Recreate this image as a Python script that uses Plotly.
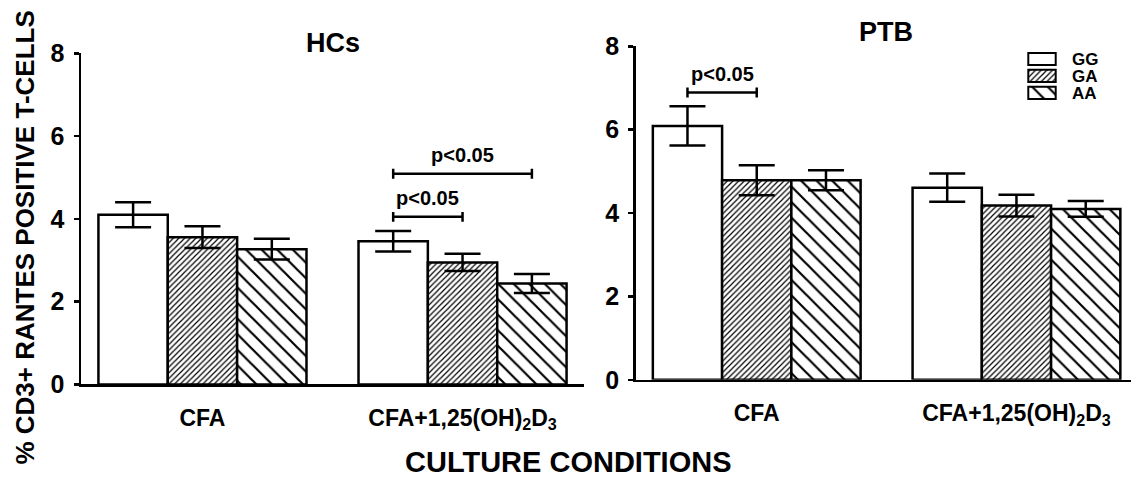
import plotly.graph_objects as go

# ---------------- data ----------------
groups = ["CFA", "CFA+1,25(OH)<sub>2</sub>D<sub>3</sub>"]
genotypes = ["GG", "GA", "AA"]
y_ticks = [0, 2, 4, 6, 8]

hcs_gg = [4.10, 3.46]
hcs_ga = [3.56, 2.95]
hcs_aa = [3.27, 2.44]
hcs_gg_sem = [0.30, 0.25]
hcs_ga_sem = [0.26, 0.21]
hcs_aa_sem = [0.25, 0.23]

ptb_gg = [6.09, 4.61]
ptb_ga = [4.79, 4.18]
ptb_aa = [4.79, 4.10]
ptb_gg_sem = [0.47, 0.34]
ptb_ga_sem = [0.36, 0.26]
ptb_aa_sem = [0.24, 0.19]

panel_titles = ["HCs", "PTB"]
sig_text = "p<0.05"
# (group index, first genotype index, second genotype index, bracket level)
hcs_brackets = [(1, 0, 1, 4.05), (1, 0, 2, 5.09)]
ptb_brackets = [(0, 0, 1, 6.89)]

y_title = "% CD3+ RANTES POSITIVE T-CELLS"
x_title = "CULTURE CONDITIONS"

# ---------------- style ----------------
FONT = "Liberation Sans, Arial, sans-serif"
W, H = 1131, 495
BARGAP = 0.2
GROUP_W = 1 - BARGAP
LW = 2.5

styles = {
    "GG": dict(shape="", size=8, solidity=0.2),
    "GA": dict(shape="/", size=4, solidity=0.3),
    "AA": dict(shape="\\", size=11, solidity=0.2),
}

fig = go.Figure()

panels = [
    ("x", "y", [hcs_gg, hcs_ga, hcs_aa], [hcs_gg_sem, hcs_ga_sem, hcs_aa_sem]),
    ("x2", "y2", [ptb_gg, ptb_ga, ptb_aa], [ptb_gg_sem, ptb_ga_sem, ptb_aa_sem]),
]
for xa, ya, means, sems in panels:
    for g, m, s in zip(genotypes, means, sems):
        st = styles[g]
        fig.add_trace(go.Bar(
            x=list(range(len(groups))), y=m, xaxis=xa, yaxis=ya, name=g,
            showlegend=False,
            marker=dict(color="white", line=dict(color="black", width=LW),
                        pattern=dict(shape=st["shape"], size=st["size"],
                                     solidity=st["solidity"], fgcolor="black",
                                     bgcolor="white", fillmode="replace")),
            error_y=dict(type="data", array=s, symmetric=True, color="black",
                         thickness=LW, width=18),
        ))

# legend swatches drawn as bars on a small helper axis
fig.add_trace(go.Bar(
    x=[1] * len(genotypes), y=list(range(len(genotypes))), orientation="h",
    xaxis="x3", yaxis="y3", width=0.72, showlegend=False, hoverinfo="skip",
    marker=dict(color="white", line=dict(color="black", width=2),
                pattern=dict(shape=[styles[g]["shape"] for g in genotypes],
                             size=[styles[g]["size"] for g in genotypes],
                             solidity=[styles[g]["solidity"] for g in genotypes],
                             fgcolor="black", bgcolor="white", fillmode="replace")),
))


def bar_center(group, idx):
    return group + (idx - 1) * GROUP_W / 3


shapes = []
annotations = []
for xref, yref, brackets in (("x", "y", hcs_brackets), ("x2", "y2", ptb_brackets)):
    for grp, a, b, lvl in brackets:
        x0, x1 = bar_center(grp, a), bar_center(grp, b)
        d = 0.12
        line = dict(color="black", width=LW)
        shapes.append(dict(type="line", xref=xref, yref=yref, x0=x0, x1=x1, y0=lvl, y1=lvl, line=line))
        shapes.append(dict(type="line", xref=xref, yref=yref, x0=x0, x1=x0, y0=lvl - d, y1=lvl + d, line=line))
        shapes.append(dict(type="line", xref=xref, yref=yref, x0=x1, x1=x1, y0=lvl - d, y1=lvl + d, line=line))
        annotations.append(dict(text=sig_text, xref=xref, yref=yref, x=(x0 + x1) / 2, y=lvl,
                                yshift=19, yanchor="middle", xanchor="center", showarrow=False,
                                font=dict(family=FONT, size=20, color="black", weight="bold")))

annotations.append(dict(text=panel_titles[0], xref="paper", yref="paper", x=332.5 / W, y=1 - 31 / H,
                        xanchor="center", yanchor="middle", showarrow=False,
                        font=dict(family=FONT, size=27, color="black", weight="bold")))
annotations.append(dict(text=panel_titles[1], xref="paper", yref="paper", x=886 / W, y=1 - 19 / H,
                        xanchor="center", yanchor="middle", showarrow=False,
                        font=dict(family=FONT, size=27, color="black", weight="bold")))
annotations.append(dict(text=y_title, xref="paper", yref="paper", x=25 / W, y=1 - 237 / H,
                        textangle=-90, xanchor="center", yanchor="middle", showarrow=False,
                        font=dict(family=FONT, size=26, color="black", weight="bold")))
annotations.append(dict(text=x_title, xref="paper", yref="paper", x=568 / W, y=1 - 475 / H,
                        xanchor="center", yanchor="middle", showarrow=False,
                        font=dict(family=FONT, size=29, color="black", weight="bold")))

xcommon = dict(showline=True, linewidth=LW, linecolor="black", ticks="", showgrid=False,
               zeroline=False, tickvals=list(range(len(groups))), ticktext=groups,
               tickfont=dict(family=FONT, size=23, color="black", weight="bold"),
               ticklabelstandoff=11, fixedrange=True)
ycommon = dict(showline=True, linewidth=LW, linecolor="black", ticks="outside", ticklen=5,
               tickwidth=LW, tickcolor="black", showgrid=False, zeroline=False, range=[0, 8],
               tickvals=y_ticks, tickfont=dict(family=FONT, size=25, color="black", weight="bold"),
               ticklabelstandoff=4, fixedrange=True)

fig.update_layout(
    width=W, height=H, margin=dict(l=0, r=0, t=0, b=0),
    paper_bgcolor="white", plot_bgcolor="white",
    barmode="group", bargap=BARGAP, bargroupgap=0,
    showlegend=False, hovermode=False,
    xaxis=dict(domain=[81 / W, 584 / W], range=[-0.467, 1.467], anchor="y", **xcommon),
    yaxis=dict(domain=[1 - 392.7 / H, 1 - 41.7 / H], anchor="x", **ycommon),
    xaxis2=dict(domain=[635.7 / W, 1.0], range=[-0.466, 1.441], anchor="y2", **xcommon),
    yaxis2=dict(domain=[1 - 387.7 / H, 1 - 34.3 / H], anchor="x2", **ycommon),
    xaxis3=dict(domain=[1027 / W, 1057 / W], range=[-0.047, 1.047], anchor="y3",
                visible=False, fixedrange=True),
    yaxis3=dict(domain=[1 - 92.7 / H, 1 - 38.7 / H], range=[2.5, -0.5], anchor="x3", side="right",
                showline=False, ticks="", showgrid=False, zeroline=False,
                tickvals=list(range(len(genotypes))), ticktext=genotypes,
                tickfont=dict(family=FONT, size=17, color="black", weight="bold"),
                ticklabelstandoff=14, fixedrange=True),
    shapes=shapes, annotations=annotations,
)

fig.write_html(
    "out.html",
    config={"displayModeBar": False, "staticPlot": True},
    post_script="document.body.style.margin='0';document.body.style.overflow='hidden';",
)
